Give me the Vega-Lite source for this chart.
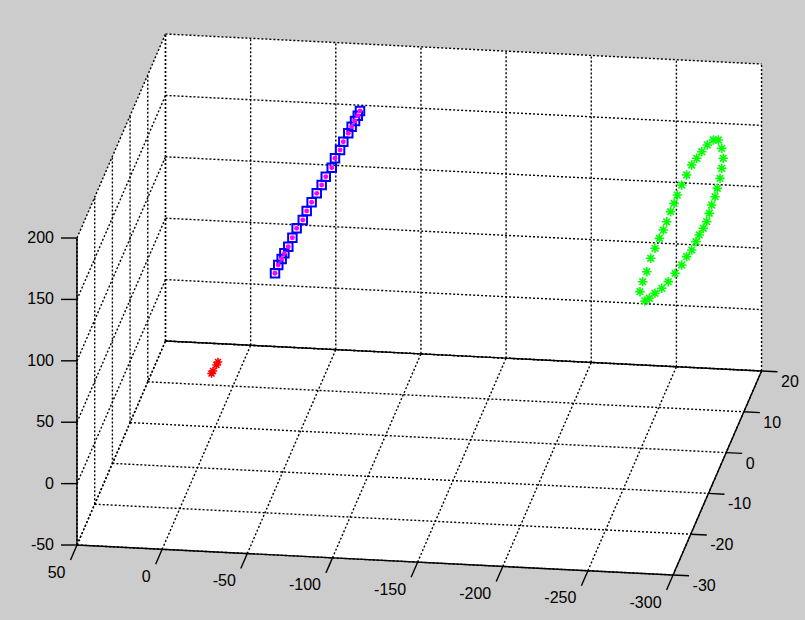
{
  "$schema": "https://vega.github.io/schema/vega-lite/v6.json",
  "width": 805,
  "height": 620,
  "autosize": {"type": "none"},
  "padding": 0,
  "background": "#cccccc",
  "config": {"view": {"stroke": null}},
  "datasets": {
    "box": [
      {"i": 1, "x": 50, "y": -30, "z": -50},
      {"i": 2, "x": 50, "y": -30, "z": 200},
      {"i": 3, "x": 50, "y": 20, "z": 200},
      {"i": 4, "x": -300, "y": 20, "z": 200},
      {"i": 5, "x": -300, "y": 20, "z": -50},
      {"i": 6, "x": -300, "y": -30, "z": -50}
    ],
    "grid": [
      {"axis": "x", "v": 50, "plane": "floor"}, {"axis": "x", "v": 0, "plane": "floor"}, {"axis": "x", "v": -50, "plane": "floor"}, {"axis": "x", "v": -100, "plane": "floor"},
      {"axis": "x", "v": -150, "plane": "floor"}, {"axis": "x", "v": -200, "plane": "floor"}, {"axis": "x", "v": -250, "plane": "floor"}, {"axis": "x", "v": -300, "plane": "floor"},
      {"axis": "x", "v": 50, "plane": "back"}, {"axis": "x", "v": 0, "plane": "back"}, {"axis": "x", "v": -50, "plane": "back"}, {"axis": "x", "v": -100, "plane": "back"},
      {"axis": "x", "v": -150, "plane": "back"}, {"axis": "x", "v": -200, "plane": "back"}, {"axis": "x", "v": -250, "plane": "back"}, {"axis": "x", "v": -300, "plane": "back"},
      {"axis": "y", "v": -30, "plane": "floor"}, {"axis": "y", "v": -20, "plane": "floor"}, {"axis": "y", "v": -10, "plane": "floor"},
      {"axis": "y", "v": 0, "plane": "floor"}, {"axis": "y", "v": 10, "plane": "floor"}, {"axis": "y", "v": 20, "plane": "floor"},
      {"axis": "y", "v": -30, "plane": "left"}, {"axis": "y", "v": -20, "plane": "left"}, {"axis": "y", "v": -10, "plane": "left"},
      {"axis": "y", "v": 0, "plane": "left"}, {"axis": "y", "v": 10, "plane": "left"}, {"axis": "y", "v": 20, "plane": "left"},
      {"axis": "z", "v": -50, "plane": "back"}, {"axis": "z", "v": 0, "plane": "back"}, {"axis": "z", "v": 50, "plane": "back"},
      {"axis": "z", "v": 100, "plane": "back"}, {"axis": "z", "v": 150, "plane": "back"}, {"axis": "z", "v": 200, "plane": "back"},
      {"axis": "z", "v": -50, "plane": "left"}, {"axis": "z", "v": 0, "plane": "left"}, {"axis": "z", "v": 50, "plane": "left"},
      {"axis": "z", "v": 100, "plane": "left"}, {"axis": "z", "v": 150, "plane": "left"}, {"axis": "z", "v": 200, "plane": "left"}
    ],
    "axes": [
      {"name": "x", "x1": 50, "y1": -30, "z1": -50, "x2": -300, "y2": -30, "z2": -50},
      {"name": "y", "x1": -300, "y1": -30, "z1": -50, "x2": -300, "y2": 20, "z2": -50},
      {"name": "z", "x1": 50, "y1": -30, "z1": -50, "x2": 50, "y2": -30, "z2": 200},
      {"name": "back", "x1": 50, "y1": 20, "z1": -50, "x2": -300, "y2": 20, "z2": -50}
    ],
    "ticks": [
      {"axis": "x", "v": 50}, {"axis": "x", "v": 0}, {"axis": "x", "v": -50}, {"axis": "x", "v": -100},
      {"axis": "x", "v": -150}, {"axis": "x", "v": -200}, {"axis": "x", "v": -250}, {"axis": "x", "v": -300},
      {"axis": "y", "v": -30}, {"axis": "y", "v": -20}, {"axis": "y", "v": -10}, {"axis": "y", "v": 0}, {"axis": "y", "v": 10}, {"axis": "y", "v": 20},
      {"axis": "z", "v": -50}, {"axis": "z", "v": 0}, {"axis": "z", "v": 50}, {"axis": "z", "v": 100}, {"axis": "z", "v": 150}, {"axis": "z", "v": 200}
    ],
    "traj": [
      {"s": "b", "x": -24.7, "y": 10, "z": 43.6}, {"s": "b", "x": -26.6, "y": 10, "z": 50.5}, {"s": "b", "x": -28.6, "y": 10, "z": 55.5},
      {"s": "b", "x": -30.2, "y": 10, "z": 60.2}, {"s": "b", "x": -32.5, "y": 10, "z": 65.8}, {"s": "b", "x": -34.9, "y": 10, "z": 73.3},
      {"s": "b", "x": -37.4, "y": 10, "z": 81.1}, {"s": "b", "x": -41.0, "y": 10, "z": 88.1}, {"s": "b", "x": -43.3, "y": 10, "z": 95.6},
      {"s": "b", "x": -46.2, "y": 10, "z": 102.9}, {"s": "b", "x": -49.2, "y": 10, "z": 110.4}, {"s": "b", "x": -52.1, "y": 10, "z": 117.4},
      {"s": "b", "x": -54.5, "y": 10, "z": 124.3}, {"s": "b", "x": -58.0, "y": 10, "z": 131.9}, {"s": "b", "x": -59.9, "y": 10, "z": 139.7},
      {"s": "b", "x": -62.9, "y": 10, "z": 146.6}, {"s": "b", "x": -64.8, "y": 10, "z": 153.5}, {"s": "b", "x": -67.7, "y": 10, "z": 160.6},
      {"s": "b", "x": -69.7, "y": 10, "z": 166.1}, {"s": "b", "x": -71.7, "y": 10, "z": 170.9}, {"s": "b", "x": -73.3, "y": 10, "z": 175.3},
      {"s": "b", "x": -74.6, "y": 10, "z": 179.2},
      {"s": "g", "x": -241.9, "y": 10, "z": 36.2}, {"s": "g", "x": -239.0, "y": 10, "z": 43.6}, {"s": "g", "x": -240.6, "y": 10, "z": 51.8},
      {"s": "g", "x": -243.0, "y": 10, "z": 60.1}, {"s": "g", "x": -245.3, "y": 10, "z": 71.2}, {"s": "g", "x": -247.8, "y": 10, "z": 79.5},
      {"s": "g", "x": -250.4, "y": 10, "z": 87.8}, {"s": "g", "x": -252.7, "y": 10, "z": 94.7}, {"s": "g", "x": -254.7, "y": 10, "z": 101.6},
      {"s": "g", "x": -257.0, "y": 10, "z": 110.0}, {"s": "g", "x": -259.0, "y": 10, "z": 116.9}, {"s": "g", "x": -260.9, "y": 10, "z": 123.8},
      {"s": "g", "x": -263.5, "y": 10, "z": 132.1}, {"s": "g", "x": -266.4, "y": 10, "z": 140.5}, {"s": "g", "x": -269.4, "y": 10, "z": 148.8},
      {"s": "g", "x": -272.3, "y": 10, "z": 154.5}, {"s": "g", "x": -275.3, "y": 10, "z": 160.1}, {"s": "g", "x": -278.5, "y": 10, "z": 165.8},
      {"s": "g", "x": -282.1, "y": 10, "z": 170.1}, {"s": "g", "x": -285.0, "y": 10, "z": 170.3}, {"s": "g", "x": -287.0, "y": 10, "z": 163.7},
      {"s": "g", "x": -287.9, "y": 10, "z": 155.6}, {"s": "g", "x": -287.0, "y": 10, "z": 147.4}, {"s": "g", "x": -286.0, "y": 10, "z": 139.2},
      {"s": "g", "x": -284.4, "y": 10, "z": 130.9}, {"s": "g", "x": -283.1, "y": 10, "z": 124.0}, {"s": "g", "x": -281.1, "y": 10, "z": 117.1},
      {"s": "g", "x": -279.7, "y": 10, "z": 110.2}, {"s": "g", "x": -278.2, "y": 10, "z": 103.3}, {"s": "g", "x": -276.2, "y": 10, "z": 97.8},
      {"s": "g", "x": -273.8, "y": 10, "z": 92.2}, {"s": "g", "x": -271.9, "y": 10, "z": 86.6}, {"s": "g", "x": -269.4, "y": 10, "z": 79.6},
      {"s": "g", "x": -266.4, "y": 10, "z": 74.0}, {"s": "g", "x": -263.5, "y": 10, "z": 67.0}, {"s": "g", "x": -259.6, "y": 10, "z": 60.0},
      {"s": "g", "x": -255.6, "y": 10, "z": 52.9}, {"s": "g", "x": -251.8, "y": 10, "z": 47.2}, {"s": "g", "x": -247.8, "y": 10, "z": 42.9},
      {"s": "g", "x": -244.5, "y": 10, "z": 38.6},
      {"s": "r", "x": -1.6, "y": 0, "z": 3.0}, {"s": "r", "x": -0.7, "y": 0, "z": 0.5},
      {"s": "r", "x": 1.3, "y": 0, "z": -4.6}, {"s": "r", "x": 2.2, "y": 0, "z": -6.7}
    ]
  },
  "encoding": {
    "x": {"field": "px", "type": "quantitative", "scale": {"domain": [-215.25, 589.75], "nice": false, "zero": false}, "axis": null},
    "y": {"field": "py", "type": "quantitative", "scale": {"domain": [-254.5, 365.5], "nice": false, "zero": false}, "axis": null}
  },
  "layer": [
    {
      "data": {"name": "box"},
      "transform": [
        {"calculate": "-1.703*datum.x + 1.77*datum.y", "as": "px"},
        {"calculate": "0.0857*datum.x + 4.08*datum.y + 1.228*datum.z", "as": "py"}
      ],
      "mark": {"type": "line", "fill": "white", "strokeWidth": 0},
      "encoding": {"order": {"field": "i", "type": "quantitative"}}
    },
    {
      "data": {"name": "grid"},
      "transform": [
        {"calculate": "datum.axis == 'x' ? datum.v : 50", "as": "X1"},
        {"calculate": "datum.axis == 'x' ? datum.v : ((datum.axis == 'y' && datum.plane == 'floor') || (datum.axis == 'z' && datum.plane == 'back')) ? -300 : 50", "as": "X2"},
        {"calculate": "datum.axis == 'y' ? datum.v : ((datum.axis == 'x' && datum.plane == 'floor') || (datum.axis == 'z' && datum.plane == 'left')) ? -30 : 20", "as": "Y1"},
        {"calculate": "datum.axis == 'y' ? datum.v : 20", "as": "Y2"},
        {"calculate": "datum.axis == 'z' ? datum.v : -50", "as": "Z1"},
        {"calculate": "datum.axis == 'z' ? datum.v : (datum.plane == 'floor' ? -50 : 200)", "as": "Z2"},
        {"calculate": "-1.703*datum.X1 + 1.77*datum.Y1", "as": "px"},
        {"calculate": "0.0857*datum.X1 + 4.08*datum.Y1 + 1.228*datum.Z1", "as": "py"},
        {"calculate": "-1.703*datum.X2 + 1.77*datum.Y2", "as": "px2"},
        {"calculate": "0.0857*datum.X2 + 4.08*datum.Y2 + 1.228*datum.Z2", "as": "py2"}
      ],
      "mark": {"type": "rule", "color": "black", "strokeWidth": 1.4, "strokeDash": [2, 2]},
      "encoding": {"x2": {"field": "px2"}, "y2": {"field": "py2"}}
    },
    {
      "data": {"name": "axes"},
      "transform": [
        {"calculate": "-1.703*datum.x1 + 1.77*datum.y1", "as": "px"},
        {"calculate": "0.0857*datum.x1 + 4.08*datum.y1 + 1.228*datum.z1", "as": "py"},
        {"calculate": "-1.703*datum.x2 + 1.77*datum.y2", "as": "px2"},
        {"calculate": "0.0857*datum.x2 + 4.08*datum.y2 + 1.228*datum.z2", "as": "py2"}
      ],
      "mark": {"type": "rule", "color": "black", "strokeWidth": 1.4},
      "encoding": {"x2": {"field": "px2"}, "y2": {"field": "py2"}}
    },
    {
      "data": {"name": "ticks"},
      "transform": [
        {"calculate": "datum.axis == 'x' ? datum.v : (datum.axis == 'y' ? -300 : 50)", "as": "X"},
        {"calculate": "datum.axis == 'y' ? datum.v : -30", "as": "Y"},
        {"calculate": "datum.axis == 'z' ? datum.v : -50", "as": "Z"},
        {"calculate": "-1.703*datum.X + 1.77*datum.Y", "as": "px"},
        {"calculate": "0.0857*datum.X + 4.08*datum.Y + 1.228*datum.Z", "as": "py"},
        {"calculate": "'' + datum.v", "as": "lab"}
      ],
      "layer": [
        {
          "transform": [{"filter": "datum.axis == 'x'"}],
          "mark": {"type": "rule", "color": "black", "strokeWidth": 1.4, "x2Offset": -6.5, "y2Offset": 15},
          "encoding": {"x2": {"field": "px"}, "y2": {"field": "py"}}
        },
        {
          "transform": [{"filter": "datum.axis == 'y'"}],
          "mark": {"type": "rule", "color": "black", "strokeWidth": 1.4, "x2Offset": 16, "y2Offset": 0.8},
          "encoding": {"x2": {"field": "px"}, "y2": {"field": "py"}}
        },
        {
          "transform": [{"filter": "datum.axis == 'z'"}],
          "mark": {"type": "rule", "color": "black", "strokeWidth": 1.4, "x2Offset": -16, "y2Offset": 0},
          "encoding": {"x2": {"field": "px"}, "y2": {"field": "py"}}
        },
        {
          "transform": [{"filter": "datum.axis == 'x'"}],
          "mark": {"type": "text", "font": "Liberation Sans", "fontSize": 16, "color": "black", "align": "right", "baseline": "middle", "dx": -11.5, "dy": 27.5},
          "encoding": {"text": {"field": "lab", "type": "nominal"}}
        },
        {
          "transform": [{"filter": "datum.axis == 'y'"}],
          "mark": {"type": "text", "font": "Liberation Sans", "fontSize": 16, "color": "black", "align": "left", "baseline": "middle", "dx": 19.5, "dy": 11},
          "encoding": {"text": {"field": "lab", "type": "nominal"}}
        },
        {
          "transform": [{"filter": "datum.axis == 'z'"}],
          "mark": {"type": "text", "font": "Liberation Sans", "fontSize": 16, "color": "black", "align": "right", "baseline": "middle", "dx": -23, "dy": 0},
          "encoding": {"text": {"field": "lab", "type": "nominal"}}
        }
      ]
    },
    {
      "data": {"name": "traj"},
      "transform": [
        {"calculate": "-1.703*datum.x + 1.77*datum.y", "as": "px"},
        {"calculate": "0.0857*datum.x + 4.08*datum.y + 1.228*datum.z", "as": "py"}
      ],
      "layer": [
        {
          "transform": [{"filter": "datum.s == 'b'"}],
          "mark": {"type": "point", "shape": "square", "filled": false, "color": "#0000ff", "size": 72, "strokeWidth": 2, "opacity": 1}
        },
        {
          "transform": [{"filter": "datum.s == 'b'"}],
          "mark": {"type": "point", "shape": "circle", "filled": true, "color": "#ff00ff", "size": 24, "opacity": 1}
        },
        {
          "transform": [{"filter": "datum.s == 'g'"}],
          "mark": {"type": "point", "shape": "M-1,0L1,0M0,-1L0,1M-0.7,-0.7L0.7,0.7M-0.7,0.7L0.7,-0.7", "filled": false, "color": "#00ff00", "size": 90, "strokeWidth": 1.6, "opacity": 1}
        },
        {
          "transform": [{"filter": "datum.s == 'r'"}],
          "mark": {"type": "point", "shape": "M-1,0L1,0M0,-1L0,1M-0.7,-0.7L0.7,0.7M-0.7,0.7L0.7,-0.7", "filled": false, "color": "#ff0000", "size": 72, "strokeWidth": 1.6, "opacity": 1}
        }
      ]
    }
  ]
}
